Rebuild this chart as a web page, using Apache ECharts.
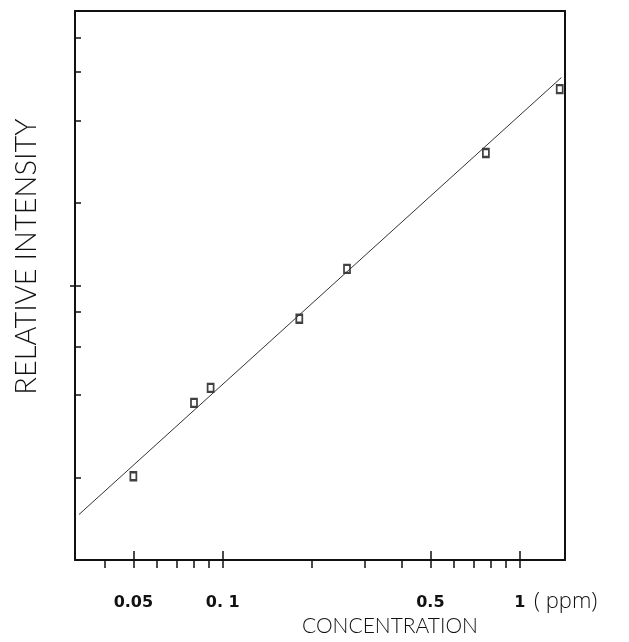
<!DOCTYPE html>
<html><head><meta charset="utf-8">
<script src="https://cdn.jsdelivr.net/npm/echarts@6/dist/echarts.min.js"></script>
<style>html,body{margin:0;padding:0;background:#fff}#c{width:629px;height:642px}</style>
</head><body><div id="c"></div>
<script>
// Measured data (concentration in ppm, relative intensity arbitrary units)
const concentration = [0.050, 0.080, 0.091, 0.181, 0.262, 0.769, 1.363];
const intensity     = [0.202, 0.374, 0.424, 0.757, 1.15, 3.04, 5.19];
// Fitted calibration line end points
const fitLineX = [0.0328, 1.381];
const fitLineY = [0.1466, 5.725];
// Axis ticks
const xLabelTicks = [0.05, 0.1, 0.5, 1];
const xMinorTicks = [0.04, 0.06, 0.07, 0.08, 0.09, 0.2, 0.3, 0.4, 0.6, 0.7, 0.8, 0.9];
const yTicks = [0.2, 0.4, 0.6, 0.8, 1, 2, 4, 6, 8];
const yMajorTicks = [1];
const xMin = 0.0318, xMax = 1.42, yMin = 0.1, yMax = 10;

const thinFont = "Lato, 'Open Sans', 'DejaVu Sans', sans-serif";
const wideThinFont = "'Open Sans', Lato, 'DejaVu Sans', sans-serif";
const points = concentration.map((x, i) => [x, intensity[i]]);
const linePts = fitLineX.map((x, i) => [x, fitLineY[i]]);
const black = '#111';

const chart = echarts.init(document.getElementById('c'), null, {renderer: 'canvas'});
chart.setOption({
  animation: false,
  backgroundColor: '#fff',
  grid: {left: 75, right: 64, top: 11, bottom: 81, containLabel: false},
  xAxis: [
    {
      type: 'log', min: xMin, max: xMax, position: 'bottom', gridIndex: 0,
      axisLine: {show: true, lineStyle: {color: black, width: 2}},
      axisTick: {show: true, customValues: xMinorTicks.concat(xLabelTicks), inside: false, length: 8, lineStyle: {color: black, width: 1.5}},
      minorTick: {show: false}, splitLine: {show: false}, minorSplitLine: {show: false},
      axisLabel: {show: true, customValues: xLabelTicks, margin: 35, color: black,
        fontFamily: "'DejaVu Sans', sans-serif", fontSize: 16, fontWeight: 'bold',
        formatter: v => (Math.abs(v - 0.1) < 1e-9 ? '0. 1' : String(v))},
      name: 'CONCENTRATION', nameLocation: 'middle', nameGap: 55,
      nameTextStyle: {color: black, fontFamily: thinFont, fontWeight: 300, fontSize: 21, padding: [0, 0, 0, 140]}
    },
    {
      type: 'log', min: xMin, max: xMax, position: 'bottom', gridIndex: 0,
      axisLine: {show: false},
      axisTick: {show: true, customValues: xLabelTicks, inside: true, length: 9, lineStyle: {color: black, width: 1.5}},
      axisLabel: {show: false}, splitLine: {show: false}, minorTick: {show: false},
      name: '( ppm)', nameLocation: 'end', nameGap: -31,
      nameTextStyle: {color: black, fontFamily: wideThinFont, fontWeight: 300, fontSize: 22, verticalAlign: 'top', padding: [31, 0, 0, 0]}
    },
    {
      type: 'log', min: xMin, max: xMax, position: 'top', gridIndex: 0,
      axisLine: {show: true, lineStyle: {color: black, width: 2}},
      axisTick: {show: false}, axisLabel: {show: false}, splitLine: {show: false}, minorTick: {show: false}
    }
  ],
  yAxis: [
    {
      type: 'log', min: yMin, max: yMax, position: 'left', gridIndex: 0,
      axisLine: {show: true, lineStyle: {color: black, width: 2}},
      axisTick: {show: true, customValues: yTicks, inside: true, length: 6, lineStyle: {color: black, width: 1.5}},
      axisLabel: {show: false}, splitLine: {show: false}, minorTick: {show: false},
      name: 'RELATIVE INTENSITY', nameLocation: 'middle', nameGap: 34, nameRotate: 90,
      nameTextStyle: {color: black, fontFamily: thinFont, fontWeight: 300, fontSize: 29, padding: [0, 0, 0, 58]}
    },
    {
      type: 'log', min: yMin, max: yMax, position: 'left', gridIndex: 0,
      axisLine: {show: false},
      axisTick: {show: true, customValues: yMajorTicks, inside: false, length: 5, lineStyle: {color: black, width: 1.5}},
      axisLabel: {show: false}, splitLine: {show: false}, minorTick: {show: false}
    },
    {
      type: 'log', min: yMin, max: yMax, position: 'right', gridIndex: 0,
      axisLine: {show: true, lineStyle: {color: black, width: 2}},
      axisTick: {show: false}, axisLabel: {show: false}, splitLine: {show: false}, minorTick: {show: false}
    }
  ],
  series: [
    {
      type: 'line', xAxisIndex: 0, yAxisIndex: 0, data: linePts, symbol: 'none',
      lineStyle: {color: '#333', width: 1}, silent: true
    },
    {
      type: 'scatter', xAxisIndex: 0, yAxisIndex: 0, data: points,
      symbol: 'rect', symbolSize: [6, 8],
      itemStyle: {color: '#fff', borderColor: black, borderWidth: 2}
    }
  ]
});
</script>
</body></html>
